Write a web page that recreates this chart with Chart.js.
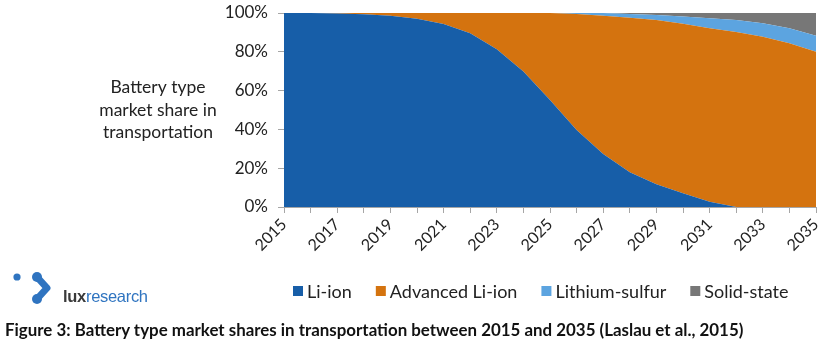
<!DOCTYPE html>
<html>
<head>
<meta charset="utf-8">
<script src="https://cdn.jsdelivr.net/npm/chart.js@4.4.1/dist/chart.umd.min.js"></script>
<style>
  html, body { margin: 0; padding: 0; background: #fff; }
  #wrap { position: relative; width: 825px; height: 346px; overflow: hidden; }
  #chart { position: absolute; left: 0; top: 0; }
  .logo-text { position: absolute; left: 63px; top: 287px; font-family: "Liberation Sans Narrow", "Liberation Sans", sans-serif; font-size: 16.5px; letter-spacing: -0.3px; }
  .logo-text b { color: #3a3a3a; }
  .logo-text span { color: #2f74c0; }
  .caption { position: absolute; left: 5px; top: 319px; font-family: Lato, "Open Sans", sans-serif; font-weight: bold; font-size: 16.9px; color: #111; white-space: nowrap; }
</style>
</head>
<body>
<div id="wrap">
  <canvas id="chart" width="825" height="346"></canvas>
  <svg style="position:absolute;left:0;top:262px" width="60" height="46" viewBox="0 0 60 46">
    <g fill="#2f74c0" stroke="#2f74c0">
      <circle cx="17" cy="15" r="3.6" stroke="none"/>
      <circle cx="37" cy="15" r="5" stroke="none"/>
      <circle cx="37" cy="37" r="5" stroke="none"/>
      <polyline points="37,15 47,26 37,37" fill="none" stroke-width="7" stroke-linejoin="round" stroke-linecap="round"/>
    </g>
  </svg>
  <div class="logo-text"><b>lux</b><span>research</span></div>
  <div class="caption">Figure 3: Battery type market shares in transportation between 2015 and 2035 (Laslau et al., 2015)</div>
</div>
<script>
// Market share (%) by battery technology, 2015-2035
const years = ['2015','2016','2017','2018','2019','2020','2021','2022','2023','2024','2025',
               '2026','2027','2028','2029','2030','2031','2032','2033','2034','2035'];
const liIon          = [100, 100, 99.8, 99.3, 98.6, 97.0, 94.3, 89.5, 81.3, 69.8, 55.2,
                        39.7, 27.3, 17.9, 11.7, 7.1, 2.7, 0, 0, 0, 0];
const advancedLiIon  = [0, 0, 0.2, 0.7, 1.4, 3.0, 5.7, 10.5, 18.7, 30.2, 44.8,
                        59.8, 71.3, 79.7, 84.7, 87.3, 89.4, 90.2, 87.7, 84.4, 80.0];
const lithiumSulfur  = [0, 0, 0, 0, 0, 0, 0, 0, 0, 0, 0,
                        0.5, 1.4, 1.9, 2.6, 3.8, 5.2, 6.2, 7.0, 7.7, 8.3];
const solidState     = [0, 0, 0, 0, 0, 0, 0, 0, 0, 0, 0,
                        0, 0, 0.5, 1.0, 1.8, 2.7, 3.6, 5.3, 7.9, 11.7];
const yTicks = [0, 20, 40, 60, 80, 100];
const axisTitle = ['Battery type', 'market share in', 'transportation'];

const FONT = 'Lato, "Open Sans", sans-serif';
const AXIS_GRAY = '#a6a6a6';
const TEXT = '#222222';

function area(label, data, color, fill) {
  return {
    label, data, fill,
    backgroundColor: color, borderColor: color,
    borderWidth: 0, pointRadius: 0, pointHoverRadius: 0, tension: 0
  };
}

// Horizontal y-axis title and bottom legend drawn on the canvas
const extras = {
  id: 'extras',
  afterDraw(chart) {
    const { ctx, chartArea } = chart;
    ctx.save();
    ctx.fillStyle = TEXT;
    ctx.font = '17.5px ' + FONT;
    ctx.textAlign = 'center';
    ctx.textBaseline = 'middle';
    const cx = chartArea.left - 126;
    const cy = (chartArea.top + chartArea.bottom) / 2;
    axisTitle.forEach((t, i) => ctx.fillText(t, cx, cy + (i - 1) * 22.5));

    // legend
    ctx.textAlign = 'left';
    ctx.font = '18px ' + FONT;
    let x = 293;
    const y = 291;
    chart.data.datasets.forEach(ds => {
      ctx.fillStyle = ds.backgroundColor;
      ctx.fillRect(x, y - 5, 10, 10);
      ctx.fillStyle = TEXT;
      ctx.fillText(ds.label, x + 14, y + 1);
      x += 14 + ctx.measureText(ds.label).width + 24;
    });
    ctx.restore();
  }
};

new Chart(document.getElementById('chart'), {
  type: 'line',
  data: {
    labels: years,
    datasets: [
      area('Li-ion', liIon, '#175ea8', 'origin'),
      area('Advanced Li-ion', advancedLiIon, '#d4730f', '-1'),
      area('Lithium-sulfur', lithiumSulfur, '#5ca4e0', '-1'),
      area('Solid-state', solidState, '#777777', '-1')
    ]
  },
  options: {
    responsive: false,
    animation: false,
    layout: { padding: { top: 13, right: 9, left: 0, bottom: 0 } },
    plugins: { legend: { display: false }, tooltip: { enabled: false } },
    elements: { line: { borderWidth: 0 } },
    scales: {
      x: {
        offset: false,
        z: 1,
        grid: { drawOnChartArea: false, tickLength: 6, color: AXIS_GRAY },
        border: { color: AXIS_GRAY, width: 1 },
        ticks: {
          autoSkip: false, maxRotation: 45, minRotation: 45, padding: 2,
          color: TEXT, font: { family: FONT, size: 16 },
          callback: (v, i) => (i % 2 === 0 ? years[i] : '')
        },
        afterFit: s => { s.height = 139; s.paddingLeft = 0; s.paddingRight = 0; }
      },
      y: {
        stacked: true,
        min: 0, max: 100,
        z: 1,
        afterBuildTicks: s => { s.ticks = yTicks.map(v => ({ value: v })); },
        grid: { drawOnChartArea: false, tickLength: 6, color: AXIS_GRAY },
        border: { color: AXIS_GRAY, width: 1 },
        ticks: {
          padding: 10, color: TEXT, font: { family: FONT, size: 17 },
          callback: v => v + '%'
        },
        afterFit: s => { s.width = 284; s.paddingTop = 0; s.paddingBottom = 0; }
      }
    }
  },
  plugins: [extras]
});
</script>
</body>
</html>
